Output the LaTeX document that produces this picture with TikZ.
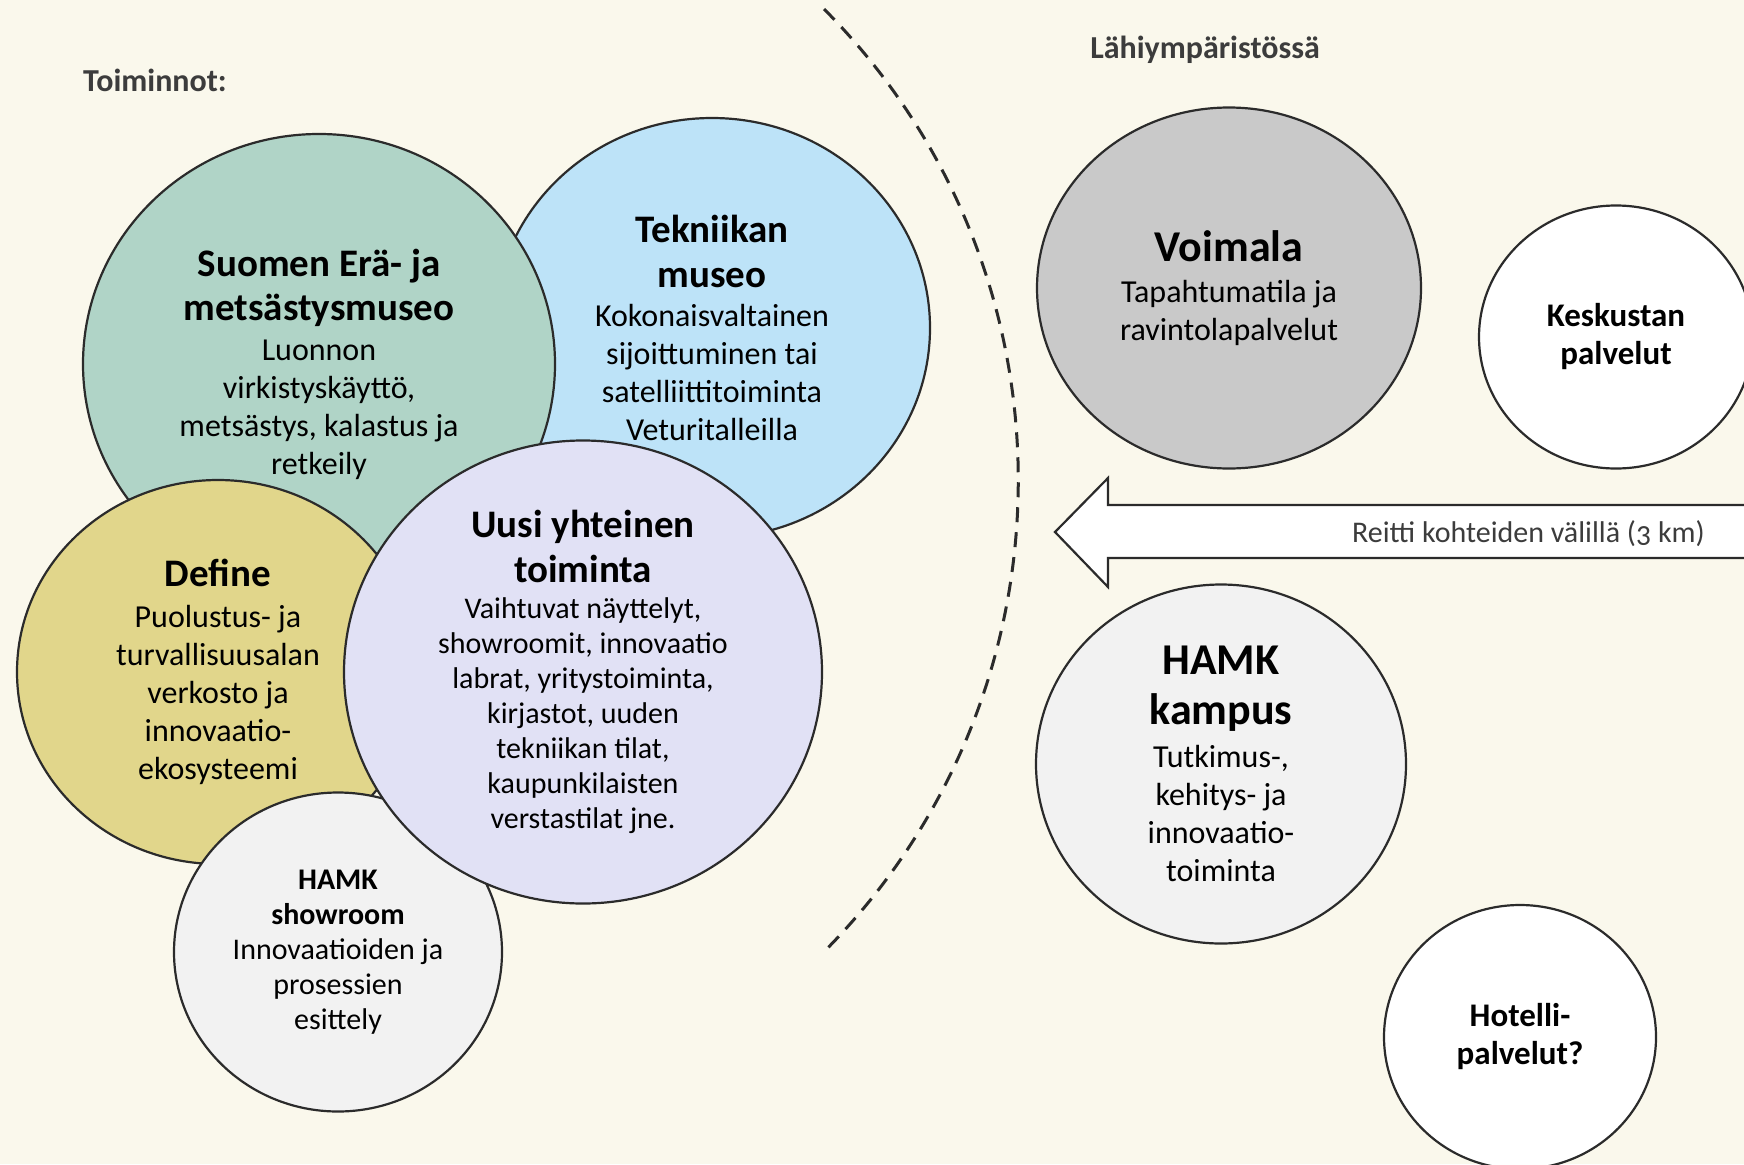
\documentclass[tikz,border=0pt]{standalone}
\usepackage{fontspec}
\setmainfont{Carlito}
\usetikzlibrary{shapes.geometric}

\definecolor{bgcream}{HTML}{FAF8EC}
\definecolor{edgegray}{HTML}{2B2B2B}
\definecolor{erafill}{HTML}{B0D4C7}
\definecolor{tekfill}{HTML}{BDE3F8}
\definecolor{deffill}{HTML}{E1D68B}
\definecolor{uusifill}{HTML}{E1E1F5}
\definecolor{lightfill}{HTML}{F2F2F2}
\definecolor{voimafill}{HTML}{C9C9C9}
\definecolor{headgray}{HTML}{3C3C3C}

\newcommand{\hdfont}{\fontsize{39}{45}\selectfont\bfseries}
\newcommand{\bighd}{\fontsize{44}{50}\selectfont\bfseries}
\newcommand{\txtfont}{\fontsize{32}{38}\selectfont}
\newcommand{\smallhd}{\fontsize{30}{35}\selectfont\bfseries}
\newcommand{\smalltxt}{\fontsize{30}{35}\selectfont}

\tikzset{
    bubble/.style={ellipse, draw=edgegray, line width=2.2pt, inner sep=-6pt, align=center, text=black, font=\txtfont},
    heading/.style={text=headgray, font=\fontsize{32}{38}\selectfont\bfseries, inner sep=0pt},
}

\begin{document}
\begin{tikzpicture}[x=1pt, y=-1pt]
    \path[fill=bgcream, use as bounding box] (0,0) rectangle (1744,1164);
    \clip (0,0) rectangle (1744,1164);

    \node (toiminnot) [heading, anchor=west] at (83,80) {Toiminnot:};
    \node (lahi) [heading] at (1205,50) {Lähiympäristössä};

    % omat toiminnot
    \node (tekniikka) [bubble, fill=tekfill, minimum width=436pt, minimum height=420pt] at (712,328)
        {\hdfont Tekniikan\\[7pt] \hdfont museo\\[1pt] Kokonaisvaltainen\\ sijoittuminen tai\\ satelliittitoiminta\\ Veturitalleilla};
    \node (eramuseo) [bubble, fill=erafill, minimum width=472pt, minimum height=460pt] at (319,364)
        {\hdfont Suomen Erä- ja\\[6pt] \hdfont metsästysmuseo\\[2pt] Luonnon\\ virkistyskäyttö,\\ metsästys, kalastus ja\\ retkeily};
    \node (define) [bubble, fill=deffill, minimum width=402pt, minimum height=384pt] at (218,672)
        {\hdfont Define\\[3pt] Puolustus- ja\\ turvallisuusalan\\ verkosto ja\\ innovaatio-\\ ekosysteemi};
    \node (showroom) [bubble, fill=lightfill, minimum width=328pt, minimum height=319pt, font=\smalltxt] at (338,952)
        {\smallhd HAMK\\ \smallhd showroom\\ Innovaatioiden ja\\ prosessien\\ esittely};
    \node (uusi) [bubble, fill=uusifill, minimum width=478pt, minimum height=463pt, font=\smalltxt] at (583,672)
        {\hdfont Uusi yhteinen\\[10pt] \hdfont toiminta\\[1pt] Vaihtuvat näyttelyt,\\ showroomit, innovaatio\\ labrat, yritystoiminta,\\ kirjastot, uuden\\ tekniikan tilat,\\ kaupunkilaisten\\ verstastilat jne.};

    % raja
    \coordinate (rajaylä) at (824,9);
    \draw [edgegray, line width=3pt, dash pattern=on 15pt off 10pt] (rajaylä) arc [start angle=-44.8, end angle=44.8, radius=669];

    % lähiympäristö
    \node (voimala) [bubble, fill=voimafill, minimum width=384pt, minimum height=361pt] at (1229,288)
        {\bighd Voimala\\[3pt] Tapahtumatila ja\\ ravintolapalvelut};
    \node (keskusta) [bubble, fill=white, minimum width=274pt, minimum height=263pt, font=\fontsize{33}{38}\selectfont\bfseries] at (1616,337)
        {Keskustan\\ palvelut};
    \node (kampus) [bubble, fill=lightfill, minimum width=370pt, minimum height=359pt] at (1221,764)
        {\bighd HAMK\\[12pt] \bighd kampus\\[5pt] Tutkimus-,\\ kehitys- ja\\ innovaatio-\\ toiminta};
    \node (hotelli) [bubble, fill=white, minimum width=272pt, minimum height=264pt, font=\fontsize{33}{38}\selectfont\bfseries] at (1520,1037)
        {Hotelli-\\ palvelut?};

    % reitti
    \draw [edgegray, line width=2.2pt, fill=white] (1055,532) -- (1108,478) -- (1108,505) -- (1760,505)
        -- (1760,558) -- (1108,558) -- (1108,587) -- cycle;
    \node (reitti) [anchor=east, text=headgray, font=\fontsize{30}{36}\selectfont\addfontfeatures{Numbers=OldStyle}, inner sep=0pt] at (1705,534)
        {Reitti kohteiden välillä (3 km)};

\end{tikzpicture}
\end{document}
